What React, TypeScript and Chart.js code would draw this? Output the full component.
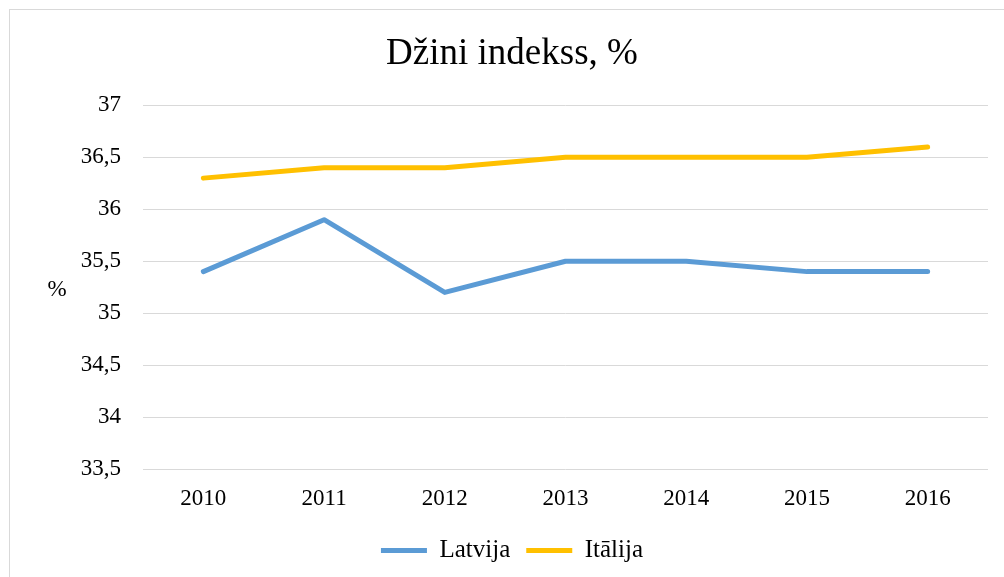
import React, { useEffect, useRef } from "react";
import { Chart, registerables } from "chart.js";

Chart.register(...registerables);

const years = ["2010", "2011", "2012", "2013", "2014", "2015", "2016"];
const latvija = [35.4, 35.9, 35.2, 35.5, 35.5, 35.4, 35.4];
const italija = [36.3, 36.4, 36.4, 36.5, 36.5, 36.5, 36.6];
const yMin = 33.5;
const yMax = 37;
const yStep = 0.5;

const FONT = "'Liberation Serif', 'Times New Roman', serif";

const frameAndAxisTitle = {
  id: "frameAndAxisTitle",
  beforeDraw(chart: any) {
    const ctx = chart.ctx;
    ctx.save();
    ctx.fillStyle = "#ffffff";
    ctx.fillRect(0, 0, chart.width, chart.height);
    ctx.strokeStyle = "#d9d9d9";
    ctx.lineWidth = 1;
    ctx.strokeRect(9.5, 9.5, chart.width + 50, chart.height + 50);
    ctx.restore();
  },
  afterDraw(chart: any) {
    const ctx = chart.ctx;
    const area = chart.chartArea;
    ctx.save();
    ctx.fillStyle = "#000000";
    ctx.font = `23px ${FONT}`;
    ctx.textAlign = "center";
    ctx.textBaseline = "middle";
    ctx.fillText("%", 57, (area.top + area.bottom) / 2 + 3);
    ctx.restore();
  },
};

export default function App() {
  const ref = useRef<HTMLCanvasElement | null>(null);

  useEffect(() => {
    if (!ref.current) return;
    const chart = new Chart(ref.current, {
      type: "line",
      data: {
        labels: years,
        datasets: [
          {
            label: "Latvija",
            data: latvija,
            borderColor: "#5B9BD5",
            backgroundColor: "#5B9BD5",
            borderWidth: 5,
            borderCapStyle: "round",
            borderJoinStyle: "round",
            pointRadius: 0,
            pointStyle: "line",
            tension: 0,
          },
          {
            label: "Itālija",
            data: italija,
            borderColor: "#FFC000",
            backgroundColor: "#FFC000",
            borderWidth: 5,
            borderCapStyle: "round",
            borderJoinStyle: "round",
            pointRadius: 0,
            pointStyle: "line",
            tension: 0,
          },
        ],
      },
      options: {
        responsive: false,
        animation: false,
        layout: { padding: { left: 36, right: 16, top: 0, bottom: 4 } },
        plugins: {
          title: {
            display: true,
            text: "Džini indekss, %",
            color: "#000000",
            font: { family: FONT, size: 37, weight: "normal" },
            padding: { top: 32, bottom: 29 },
          },
          legend: {
            position: "bottom",
            labels: {
              usePointStyle: true,
              pointStyleWidth: 46,
              color: "#000000",
              font: { family: FONT, size: 25 },
              padding: 16,
            },
          },
          tooltip: { enabled: false },
        },
        scales: {
          x: {
            offset: true,
            afterFit(scale: any) {
              scale.height = 53;
            },
            grid: { display: false },
            border: { display: false },
            ticks: {
              color: "#000000",
              font: { family: FONT, size: 23 },
              padding: 8,
            },
          },
          y: {
            min: yMin,
            max: yMax,
            afterFit(scale: any) {
              scale.width = 107;
            },
            grid: { color: "#d9d9d9", lineWidth: 1, drawTicks: false },
            border: { display: false },
            ticks: {
              stepSize: yStep,
              color: "#000000",
              font: { family: FONT, size: 23 },
              padding: 22,
              callback: (v: any) => String(v).replace(".", ","),
            },
          },
        },
      },
      plugins: [frameAndAxisTitle],
    });
    return () => chart.destroy();
  }, []);

  return (
    <div style={{ position: "absolute", left: 0, top: 0, width: 1004, height: 577 }}>
      <canvas ref={ref} width={1004} height={577} />
    </div>
  );
}
